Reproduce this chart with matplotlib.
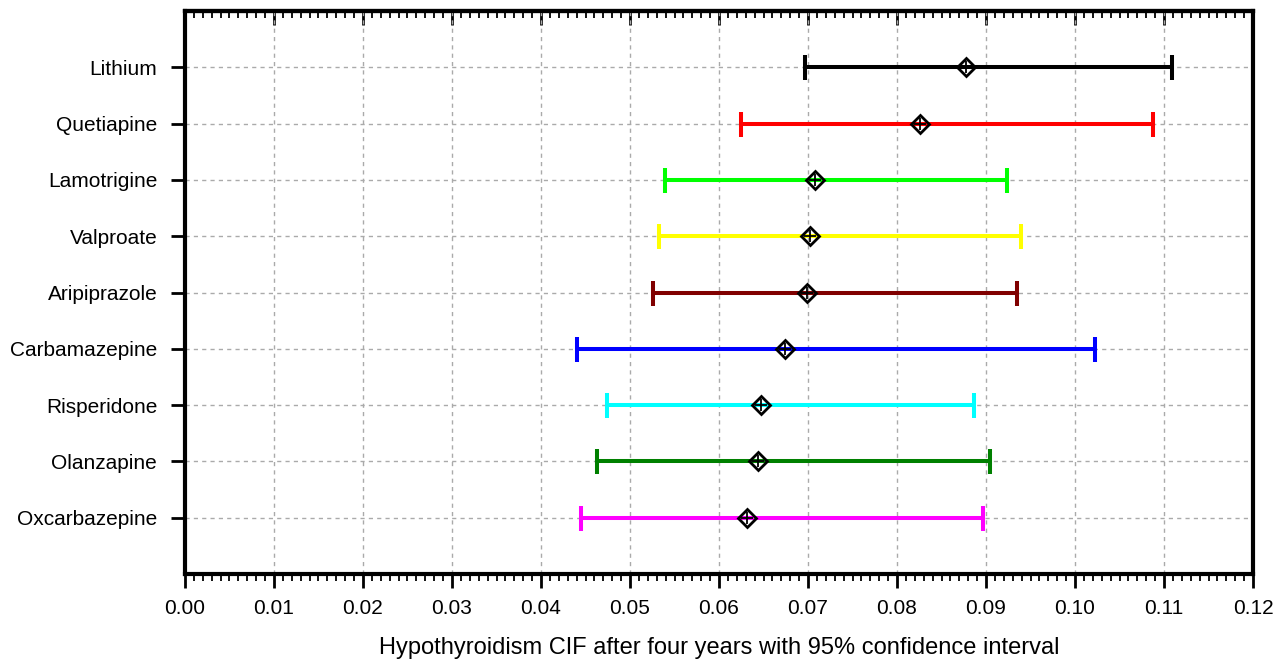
import matplotlib.pyplot as plt
from matplotlib.ticker import MultipleLocator

drugs = ['Lithium', 'Quetiapine', 'Lamotrigine', 'Valproate', 'Aripiprazole',
         'Carbamazepine', 'Risperidone', 'Olanzapine', 'Oxcarbazepine']
cif = [0.0878, 0.0826, 0.0708, 0.0702, 0.0699, 0.0674, 0.0647, 0.0644, 0.0631]
lower = [0.0697, 0.0625, 0.0539, 0.0533, 0.0526, 0.0440, 0.0474, 0.0463, 0.0445]
upper = [0.1109, 0.1088, 0.0924, 0.0939, 0.0935, 0.1022, 0.0887, 0.0904, 0.0897]
colors = ['#000000', '#ff0000', '#00ff00', '#ffff00', '#800000',
          '#0000ff', '#00ffff', '#008000', '#ff00ff']

plt.rcParams['font.family'] = ['Liberation Sans', 'DejaVu Sans']

fig = plt.figure(figsize=(12.82, 6.6), dpi=100)
ax = fig.add_axes([0.1443, 0.1303, 0.8331, 0.853])

n = len(drugs)
ypos = list(range(n, 0, -1))

for i in range(n):
    ax.errorbar(cif[i], ypos[i],
                xerr=[[cif[i] - lower[i]], [upper[i] - cif[i]]],
                fmt='none', ecolor=colors[i], elinewidth=2.9,
                capsize=9, capthick=2.9, zorder=3)
    ax.plot(cif[i], ypos[i], marker='D', ms=9, mfc='none', mec='black',
            mew=2.0, linestyle='none', zorder=4)
    ax.plot(cif[i], ypos[i], marker='+', ms=9, mec='black',
            mew=1.3, linestyle='none', zorder=4)

ax.set_xlim(0, 0.12)
ax.set_ylim(0, 10)
ax.xaxis.set_major_locator(MultipleLocator(0.01))
ax.xaxis.set_minor_locator(MultipleLocator(0.001))
ax.set_xticklabels([f'{v:.2f}' for v in ax.get_xticks()])
ax.set_yticks(ypos)
ax.set_yticklabels(drugs)

ax.grid(True, which='major', color='#aaaaaa', linestyle=(0, (3, 3)), linewidth=1)
ax.set_axisbelow(True)

for s in ax.spines.values():
    s.set_linewidth(3.0)

ax.tick_params(axis='x', which='major', direction='out', length=10, width=2,
               labelsize=15, pad=8, top=False)
ax.tick_params(axis='x', which='minor', direction='out', length=5, width=1.3, top=False)
ax.tick_params(axis='y', which='major', direction='out', length=10, width=2,
               labelsize=15, pad=10)

# top axis: inward ticks, no labels
top = ax.secondary_xaxis('top')
top.xaxis.set_major_locator(MultipleLocator(0.01))
top.xaxis.set_minor_locator(MultipleLocator(0.001))
top.tick_params(axis='x', which='major', direction='in', length=10, width=2,
                labeltop=False)
top.tick_params(axis='x', which='minor', direction='in', length=5, width=1.3)
top.spines['top'].set_linewidth(3.0)

ax.set_xlabel('Hypothyroidism CIF after four years with 95% confidence interval',
              fontsize=17, labelpad=14)

fig.savefig('out.png', dpi=100)
